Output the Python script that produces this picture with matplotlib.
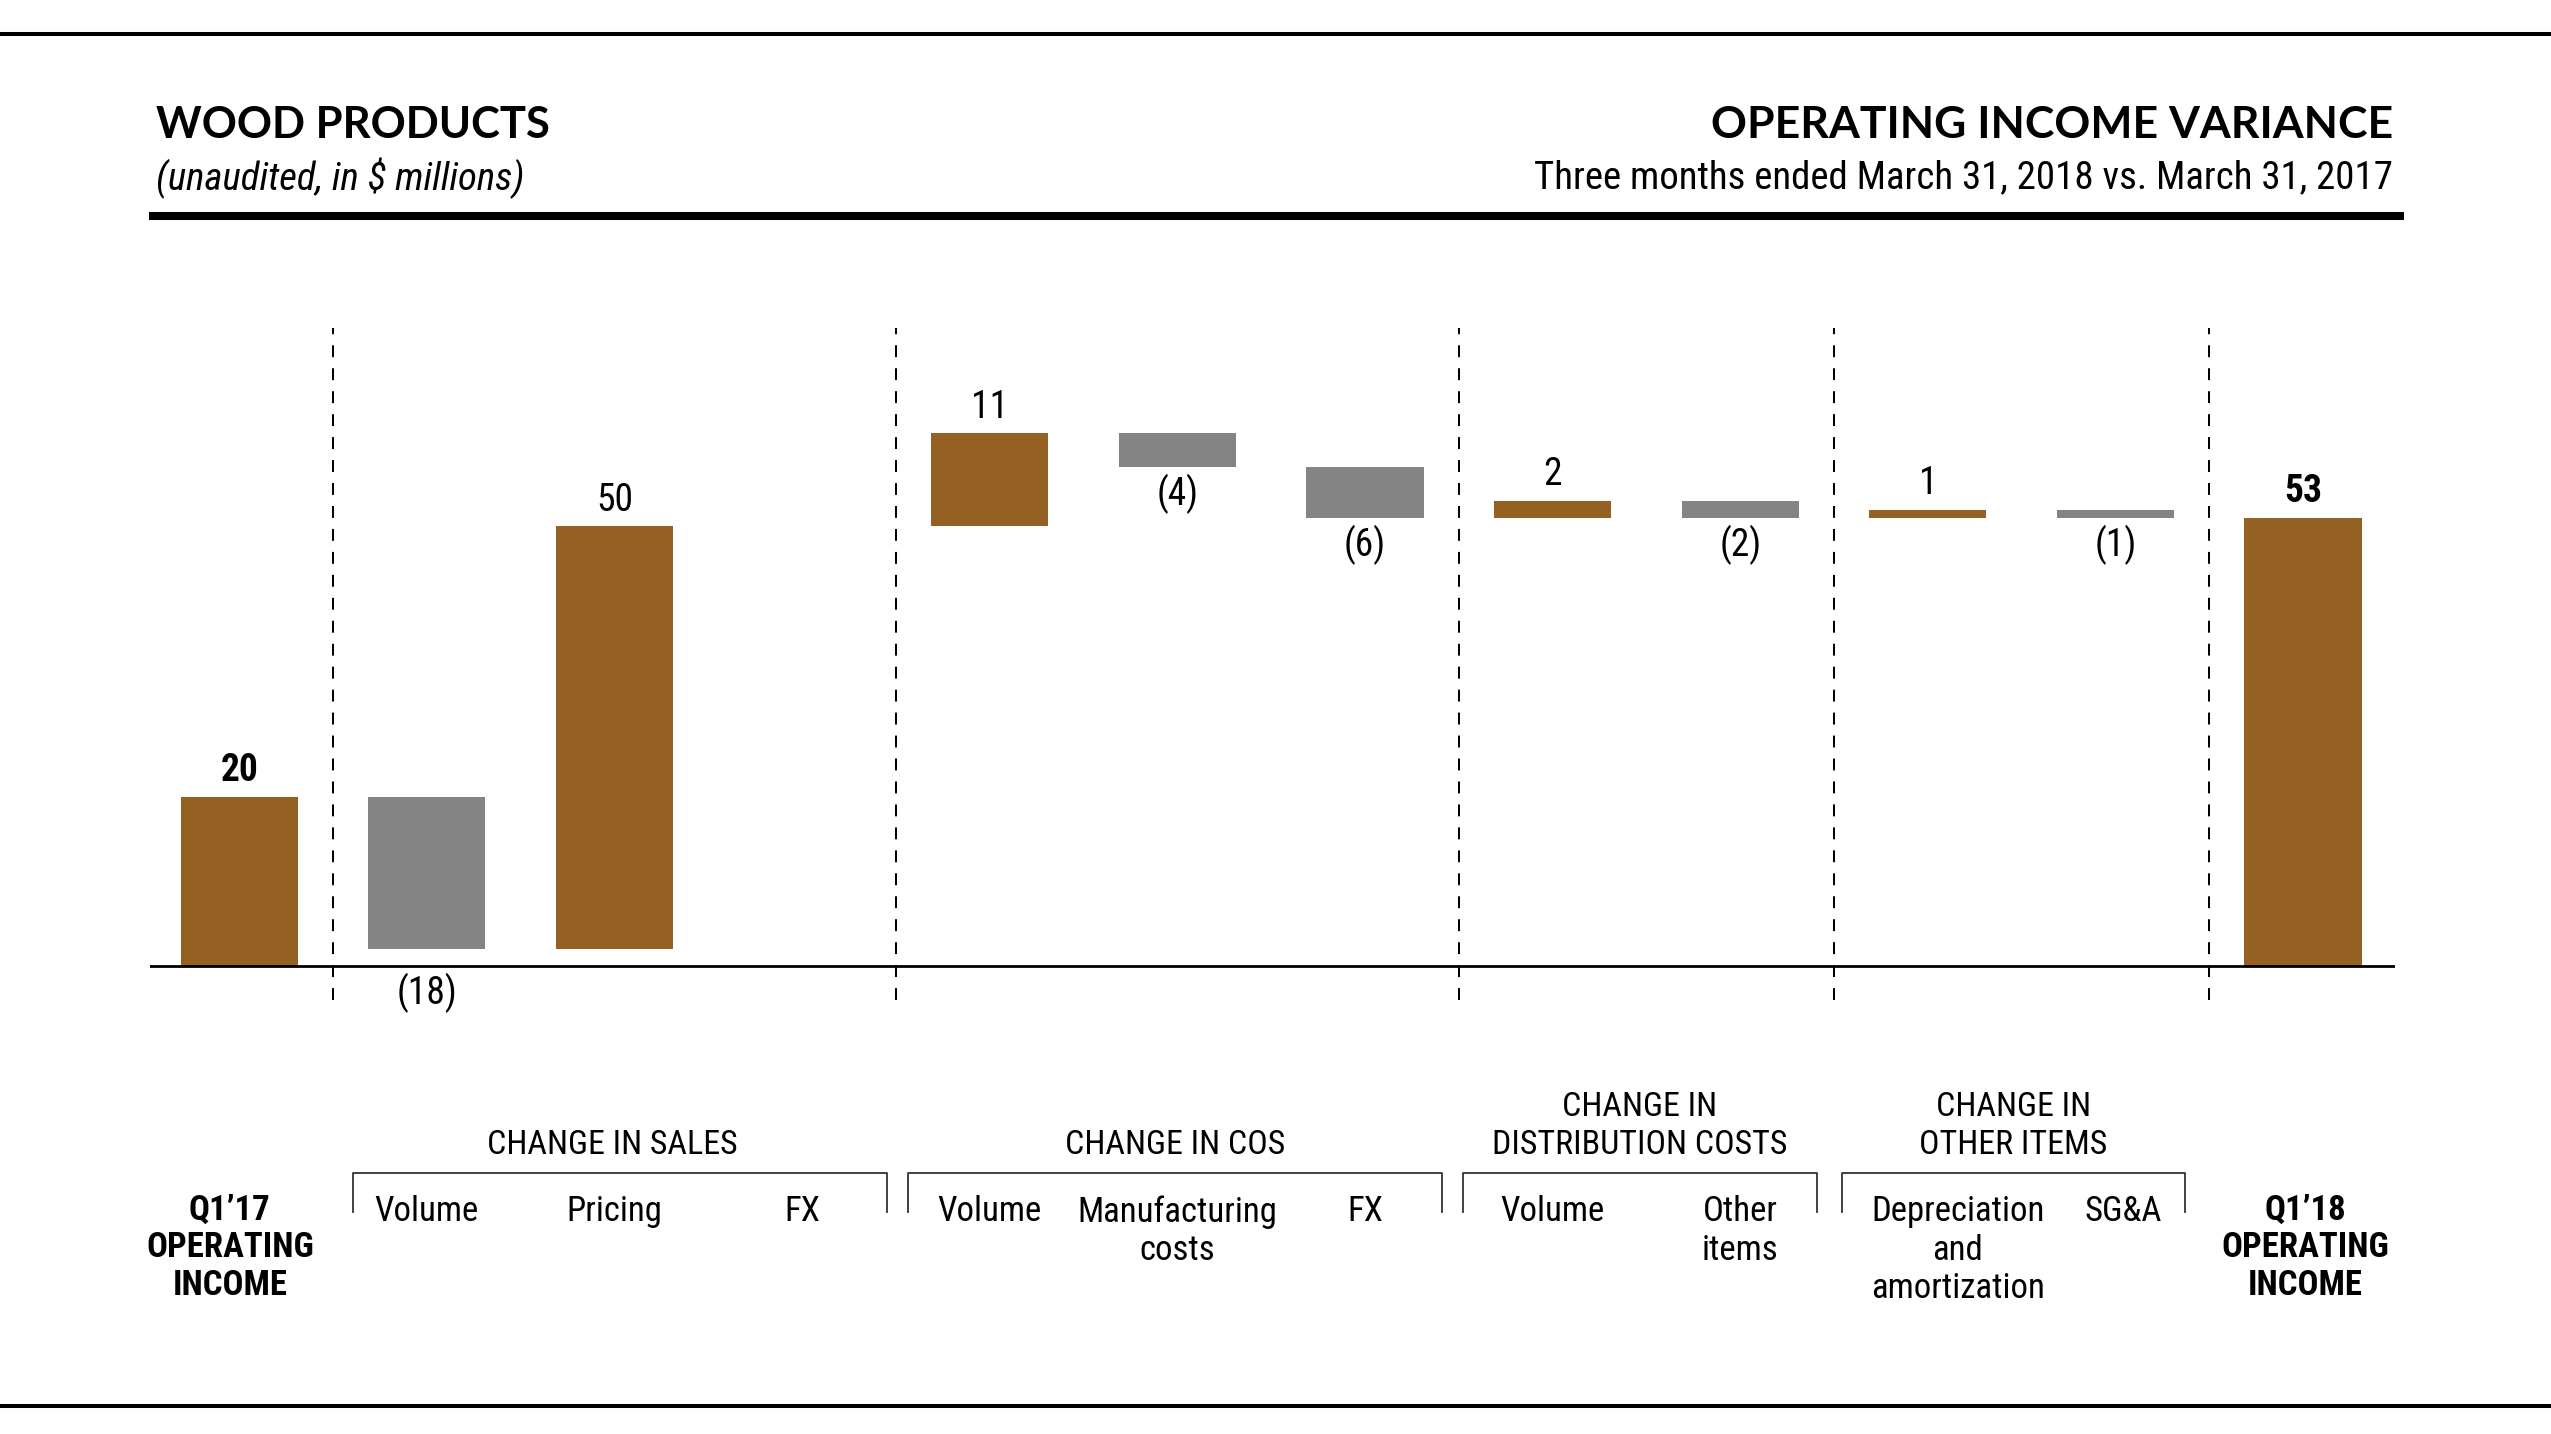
import matplotlib
matplotlib.use("Agg")
import matplotlib.pyplot as plt
import matplotlib.transforms as mtransforms
from matplotlib.lines import Line2D

# ---- data ---------------------------------------------------------------
labels = ["Q1’17\nOPERATING\nINCOME", "Volume", "Pricing", "FX",
          "Volume", "Manufacturing\ncosts", "FX",
          "Volume", "Other\nitems",
          "Depreciation\nand\namortization", "SG&A",
          "Q1’18\nOPERATING\nINCOME"]
changes = [20, -18, 50, 0, 11, -4, -6, 2, -2, 1, -1, 53]
is_total = [True] + [False] * 10 + [True]
groups = ["CHANGE IN SALES", "CHANGE IN COS",
          "CHANGE IN\nDISTRIBUTION COSTS", "CHANGE IN\nOTHER ITEMS"]

BROWN = "#956122"
GREY = "#848484"

plt.rcParams['font.family'] = ['Liberation Sans Narrow', 'Roboto Condensed',
                               'DejaVu Sans Condensed', 'Liberation Sans', 'DejaVu Sans']

W, H = 2551, 1434
fig = plt.figure(figsize=(W / 100, H / 100), dpi=100)

def fx(px):
    return px / W

def fy(px):
    return 1 - px / H

# ---- frame / header ------------------------------------------------------
fig.add_artist(Line2D([0, 1], [fy(34), fy(34)], color="black", lw=2.9))
fig.add_artist(Line2D([0, 1], [fy(1406), fy(1406)], color="black", lw=2.9))
fig.add_artist(Line2D([fx(153), fx(2400)], [fy(216), fy(216)], color="black", lw=5.8))

head_font = ['Lato', 'DejaVu Sans']
fig.text(fx(156), fy(125), "WOOD PRODUCTS", fontsize=31.3, fontweight="bold",
         family=head_font, ha="left", va="center")
fig.text(fx(156), fy(178), "(unaudited, in $ millions)", fontsize=28,
         style="italic", ha="left", va="center")
fig.text(fx(2393), fy(125), "OPERATING INCOME VARIANCE", fontsize=32,
         fontweight="bold", family=head_font, ha="right", va="center")
fig.text(fx(2393), fy(178), "Three months ended March 31, 2018 vs. March 31, 2017",
         fontsize=28, ha="right", va="center")

# ---- waterfall -----------------------------------------------------------
ax = fig.add_axes([fx(149.7), fy(1034), fx(2395) - fx(149.7), (1034 - 289.6) / H])
ax.set_xlim(-0.477, 11.49)
ax.set_ylim(-8, 80)
ax.axis("off")

x = list(range(len(changes)))
bottoms, heights, colors = [], [], []
running = 0
for v, tot in zip(changes, is_total):
    if tot:
        bottoms.append(0)
        heights.append(v)
        running = v
    else:
        bottoms.append(running if v >= 0 else running + v)
        heights.append(abs(v))
        running += v
    colors.append(BROWN if v >= 0 else GREY)

ax.bar(x, heights, bottom=bottoms, width=0.625, color=colors, zorder=2)
ax.axhline(0, color="black", lw=2, zorder=3)
ax.vlines([0.5, 3.5, 6.5, 8.5, 10.5], -4, 75.5, colors="black", lw=1.45,
          linestyles=(0, (5.9, 5.5)), zorder=1)

for xi, v, b, h, tot in zip(x, changes, bottoms, heights, is_total):
    if v == 0:
        continue
    weight = "bold" if tot else "normal"
    if v > 0:
        ax.annotate(str(v), (xi, b + h), xytext=(0, 19), textcoords="offset points",
                    ha="center", va="center", fontsize=27, fontweight=weight)
    else:
        yb = b if b > 4 else 0
        ax.annotate("({})".format(-v), (xi, yb), xytext=(0, -19),
                    textcoords="offset points", ha="center", va="center",
                    fontsize=27)

# ---- category labels -----------------------------------------------------
blend = mtransforms.blended_transform_factory(ax.transData, fig.transFigure)
label_dx = [-0.05, 0, 0, 0, 0, 0, 0, 0, 0, 0.16, 0.04, 0.01]
for xi, lab, dx, tot in zip(x, labels, label_dx, is_total):
    ax.text(xi + dx, fy(1194 if tot else 1195), lab, transform=blend, ha="center",
            va="top", fontsize=25, fontweight="bold" if tot else "normal",
            linespacing=1.17 if tot else 1.22, clip_on=False)

spans = [(0.607, 3.452), (3.565, 6.41), (6.52, 8.41), (8.54, 10.37)]
group_dx = [-0.04, 0, 0, 0]
for (a, b), g, dx in zip(spans, groups, group_dx):
    ax.plot([a, a, b, b], [fy(1212), fy(1173), fy(1173), fy(1212)],
            transform=blend, color="#333333", lw=1.3, clip_on=False)
    ax.text((a + b) / 2 + dx, fy(1161), g, transform=blend, ha="center",
            va="bottom", fontsize=24.5, linespacing=1.22, clip_on=False)

fig.savefig("out.png", dpi=100)
